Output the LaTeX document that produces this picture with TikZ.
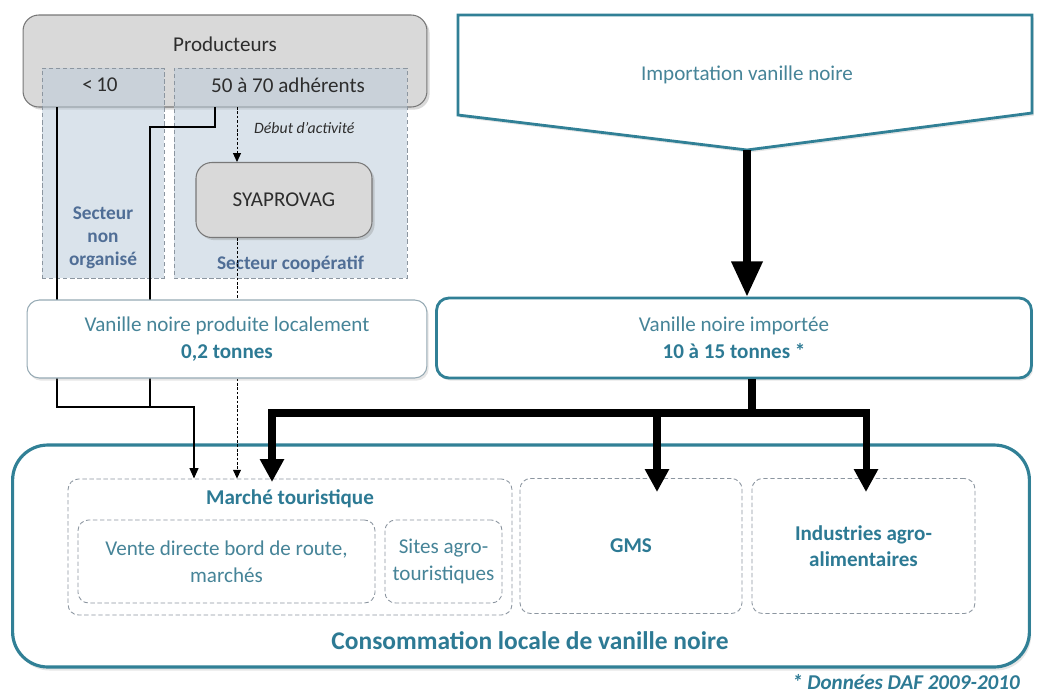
\documentclass[tikz,border=0pt]{standalone}
\usepackage{fontspec}
\setmainfont{Carlito}
\usepackage{xcolor}
\usepackage{tikz}
\usetikzlibrary{positioning}
\usetikzlibrary{arrows.meta}
\usetikzlibrary{calc}
\usetikzlibrary{shadows}
\definecolor{boxgray}{RGB}{217,217,217}
\definecolor{boxborder}{RGB}{120,120,120}
\definecolor{secfill}{RGB}{188,204,218}
\definecolor{dashgray}{RGB}{140,150,160}
\definecolor{tealborder}{RGB}{49,128,150}
\definecolor{lightteal}{RGB}{150,170,180}
\definecolor{textteal}{RGB}{70,132,152}
\definecolor{boldteal}{RGB}{45,122,148}
\definecolor{sectblue}{RGB}{80,110,150}
\definecolor{darktxt}{RGB}{45,45,45}

\begin{document}
\begin{tikzpicture}[
    x=0.02cm, y=-0.02cm,
    graybox/.style={rectangle, rounded corners=9pt, draw=boxborder, fill=boxgray, line width=0.6pt, drop shadow={shadow xshift=1.5pt, shadow yshift=-1.5pt, opacity=0.3}},
    sectbox/.style={rectangle, draw=dashgray, dashed, dash pattern=on 2.5pt off 1.5pt, fill=secfill, fill opacity=0.55, line width=0.5pt},
    whitebox/.style={rectangle, rounded corners=7pt, draw=lightteal, fill=white, line width=0.6pt, align=center, drop shadow={shadow xshift=1pt, shadow yshift=-1.5pt, opacity=0.2}},
    imptbox/.style={rectangle, rounded corners=7pt, draw=tealborder, fill=white, line width=1.6pt, align=center, drop shadow={shadow xshift=1pt, shadow yshift=-1.5pt, opacity=0.2}},
    consbox/.style={rectangle, rounded corners=20pt, draw=tealborder, fill=white, line width=1.8pt, drop shadow={shadow xshift=1pt, shadow yshift=-2pt, opacity=0.2}},
    dbox/.style={rectangle, rounded corners=6pt, draw=dashgray, dashed, dash pattern=on 2.5pt off 1.5pt, line width=0.5pt, align=center},
    txt/.style={font=\fontsize{12}{15.5}\selectfont, text=darktxt, align=center},
    tealtxt/.style={font=\fontsize{12}{15.5}\selectfont, text=textteal, align=center},
    boldlbl/.style={font=\fontsize{12}{14}\selectfont\bfseries, text=boldteal, align=center},
    sectlbl/.style={font=\fontsize{11}{13}\selectfont\bfseries, text=sectblue, align=center},
    note/.style={font=\fontsize{9}{11}\selectfont\itshape, text=darktxt},
    link/.style={line width=1.1pt},
    flow/.style={-{Triangle[length=6pt,width=5pt]}, line width=1.1pt},
    dotflow/.style={-{Triangle[length=5pt,width=4.5pt]}, line width=0.5pt, dash pattern=on 1.5pt off 1pt},
    bigline/.style={line width=4pt},
    bigflow/.style={-{Triangle[length=13pt,width=13pt]}, line width=4pt}
]
\useasboundingbox (0,0) rectangle (1037,697);

% Consumption side
\node[consbox, minimum width=20.34cm, minimum height=4.44cm] (cons) at (521,556) {};
\node[dbox, minimum width=8.88cm, minimum height=2.72cm] (marche) at (290,547) {};
\node[dbox, tealtxt, minimum width=5.94cm, minimum height=1.66cm] (vente) at (226.5,561.5) {Vente directe bord de route,\\marchés};
\node[dbox, tealtxt, minimum width=2.34cm, minimum height=1.66cm] (sites) at (443.5,561.5) {Sites agro-\\touristiques};
\node[dbox, boldlbl, minimum width=4.44cm, minimum height=2.7cm] (gms) at (631,546) {GMS};
\node[dbox, boldlbl, font=\fontsize{12}{15}\selectfont\bfseries, minimum width=4.46cm, minimum height=2.7cm] (indus) at (863.5,546) {Industries agro-\\alimentaires};
\node[boldlbl, below=3pt of marche.north] (marchelbl) {Marché touristique};
\node[boldlbl, font=\fontsize{14.5}{16}\selectfont\bfseries, above=7pt of cons.south, xshift=0.18cm] (conslbl) {Consommation locale de vanille noire};
\node[boldlbl, font=\fontsize{12}{14}\selectfont\bfseries\itshape, below left=0pt and 0.1cm of cons.south east] (source) {* Données DAF 2009-2010};

% Producers
\node[graybox, minimum width=8.08cm, minimum height=1.84cm] (prod) at (225,61) {};
\node[sectbox, minimum width=2.44cm, minimum height=4.2cm] (nonorg) at (103,173) {};
\node[sectbox, minimum width=4.66cm, minimum height=4.2cm] (coop) at (290.5,173) {};
\node[txt, below=9pt of prod.north] (prodlbl) {Producteurs};
\node[txt, below=2.5pt of nonorg.north, xshift=-0.06cm] (petit) {<\,10};
\node[txt, below=2.5pt of coop.north, xshift=-0.05cm] (adherents) {50 à 70 adhérents};
\node[graybox, txt, minimum width=3.52cm, minimum height=1.5cm] (syap) at (284,200) {SYAPROVAG};
\node[sectlbl, above=2pt of nonorg.south] (nonorglbl) {Secteur\\non\\organisé};
\node[sectlbl, above=0pt of coop.south] (cooplbl) {Secteur coopératif};

% Producer flows
\coordinate (nA) at (57,107);
\coordinate (nB) at (215,107);
\coordinate (kB) at (150,127);
\coordinate (jA) at (194,407);
\coordinate (dA) at (237,107);
\draw[flow] (nA) |- (jA) -- (jA |- marche.north);
\draw[link] (nB) |- (kB) -- (kB |- jA);
\draw[dotflow] (dA) -- (dA |- syap.north);
\node[note, anchor=west] (debut) at (248,128) {Début d'activité};
\draw[dotflow] (syap.south -| dA) -- (dA |- marche.north);

% Local production
\node[whitebox, tealtxt, minimum width=8cm, minimum height=1.56cm] (local) at (227,339) {Vanille noire produite localement\\\textcolor{boldteal}{\bfseries 0,2 tonnes}};

% Import
\draw[tealborder, line width=1.6pt, fill=white, drop shadow={shadow xshift=1pt, shadow yshift=-1.5pt, opacity=0.2}] (458,15) -- (1032,15) -- (1032,113) -- (747,150) -- (458,115) -- cycle;
\node[tealtxt] (importlbl) at (747,75) {Importation vanille noire};
\coordinate (tip) at (747,150);
\node[imptbox, tealtxt, minimum width=11.9cm, minimum height=1.6cm] (impt) at (734,338) {Vanille noire importée\\\textcolor{boldteal}{\bfseries 10 à 15 tonnes *}};
\draw[-{Triangle[length=20pt,width=17pt]}, line width=4pt] (tip) -- (tip |- impt.north);

% Import flows
\coordinate (hub) at (752,413);
\coordinate (tA) at (272,482);
\coordinate (tG) at (657,492);
\coordinate (tI) at (866,492);
\draw[bigline] (impt.south -| hub) -- (hub);
\draw[bigflow] (hub) -| (tA);
\draw[bigflow] (hub) -| (tG);
\draw[bigflow] (hub) -| (tI);

\end{tikzpicture}
\end{document}
